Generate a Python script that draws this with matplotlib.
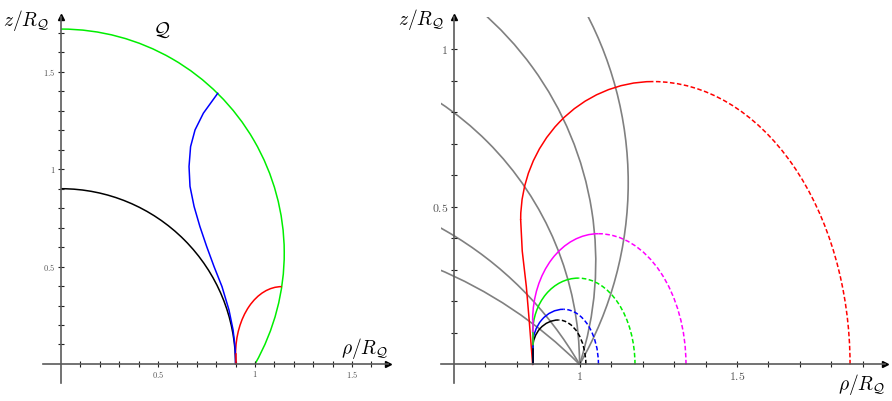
import numpy as np
import matplotlib
matplotlib.use("Agg")
import matplotlib.pyplot as plt
from matplotlib.patches import Arc

plt.rcParams['mathtext.fontset'] = 'cm'

# ---- left panel data ----
black_radius = 0.9
q_center_z = 0.569
q_radius = 1.151

blue_rho = [0.900, 0.899, 0.897, 0.887, 0.866, 0.830, 0.789, 0.751, 0.716, 0.686, 0.665, 0.660, 0.668, 0.691, 0.734, 0.808]
blue_z = [0.000, 0.045, 0.089, 0.175, 0.277, 0.397, 0.500, 0.603, 0.706, 0.809, 0.912, 1.014, 1.116, 1.202, 1.288, 1.390]

# red curve: rises from (0.9, 0) to a knee, then bends over to meet Q
red_start_rho = 0.900
red_knee_z = 0.05
red_end_rho = 1.138
red_end_z = 0.397

# ---- right panel data ----
gray_center_z = [-1.0, -0.577, 0.0, 0.325, 0.577]

start_rho = 0.851
names = ['red', 'magenta', 'green', 'blue', 'black']
peak_rho = [1.234, 1.060, 0.996, 0.949, 0.933]
peak_z = [0.898, 0.415, 0.274, 0.175, 0.141]
end_rho = [1.859, 1.338, 1.176, 1.060, 1.020]
knee_rho = [0.813, 0.851, 0.851, 0.851, 0.851]
knee_z = [0.459, 0.140, 0.100, 0.060, 0.050]

# lower stem of the red curve (leans left before bending over)
r_red_stem_rho = [0.851, 0.840, 0.831, 0.818, 0.813]
r_red_stem_z = [0.000, 0.141, 0.247, 0.360, 0.459]

fig = plt.figure(figsize=(8.92, 4.01), dpi=100)

axis_col = '#5a5a5a'
dash = (0, (3, 1.6))
colors = {'red': '#ff0000', 'magenta': '#ff00ff', 'green': '#00ee00',
          'blue': '#0000ff', 'black': '#000000'}


def setup_axis(ax, x0, xminor, yminor, xmajor, ymajor, lab_size):
    for s in ['top', 'right']:
        ax.spines[s].set_visible(False)
    ax.spines['left'].set_position(('data', x0))
    ax.spines['bottom'].set_position(('data', 0))
    for s in ['left', 'bottom']:
        ax.spines[s].set_color(axis_col)
        ax.spines[s].set_linewidth(1.2)
    ax.set_xticks(xmajor)
    ax.set_xticklabels(['$%g$' % v for v in xmajor])
    ax.set_yticks(ymajor)
    ax.set_yticklabels(['$%g$' % v for v in ymajor])
    ax.set_xticks(xminor, minor=True)
    ax.set_yticks(yminor, minor=True)
    ax.tick_params(which='both', direction='inout', length=4, width=0.8, color='#222222',
                   labelsize=lab_size, labelcolor='#555555', pad=2)
    ax.plot(1, 0, '>', color='black', ms=5, transform=ax.get_yaxis_transform(), clip_on=False)
    ax.plot(x0, 1, '^', color='black', ms=5, transform=ax.get_xaxis_transform(), clip_on=False)


def quarter(ax, cx, cz, a, b, t1, t2, col, ls='-'):
    ax.add_patch(Arc((cx, cz), 2 * a, 2 * b, theta1=t1, theta2=t2,
                     color=col, lw=1.1, linestyle=ls))


# ---- left panel ----
ax1 = fig.add_axes([43 / 892, 18 / 401, 345 / 892, 366 / 401])
ax1.set_xlim(-0.093, 1.686)
ax1.set_ylim(-0.098, 1.782)
setup_axis(ax1, 0, np.arange(0.1, 1.65, 0.1), np.arange(0.1, 1.75, 0.1),
           [0.5, 1, 1.5], [0.5, 1, 1.5], 6)

ax1.add_patch(Arc((0, 0), 2 * black_radius, 2 * black_radius, theta1=0, theta2=90,
                  color='black', lw=1.1))
q_start = np.degrees(np.arctan2(-q_center_z, 1.0))
ax1.add_patch(Arc((0, q_center_z), 2 * q_radius, 2 * q_radius, theta1=q_start, theta2=90,
                  color='#00ee00', lw=1.1))
ax1.plot(blue_rho, blue_z, color='#0000ff', lw=1.1)
ax1.plot([red_start_rho, red_start_rho], [0, red_knee_z], color='#ff0000', lw=1.1)
quarter(ax1, red_end_rho, red_knee_z, red_end_rho - red_start_rho, red_end_z - red_knee_z,
        90, 180, '#ff0000')

# ---- right panel ----
ax2 = fig.add_axes([441 / 892, 18 / 401, 444 / 892, 366 / 401])
ax2.set_xlim(0.560, 1.970)
ax2.set_ylim(-0.059, 1.103)
setup_axis(ax2, 0.6, np.arange(0.7, 1.95, 0.1), np.arange(0.1, 1.05, 0.1),
           [1, 1.5], [0.5, 1], 8.5)

for c in gray_center_z:
    r = np.hypot(1.0, c)
    t1 = np.degrees(np.arctan2(-c, 1.0))
    ax2.add_patch(Arc((0, c), 2 * r, 2 * r, theta1=t1, theta2=180 - t1,
                      color='#808080', lw=1.2))

for i, name in enumerate(names):
    col = colors[name]
    if name == 'red':
        ax2.plot(r_red_stem_rho, r_red_stem_z, color=col, lw=1.1)
    else:
        ax2.plot([start_rho, knee_rho[i]], [0, knee_z[i]], color=col, lw=1.1)
    # solid rise up to the top of the curve
    quarter(ax2, peak_rho[i], knee_z[i], peak_rho[i] - knee_rho[i], peak_z[i] - knee_z[i],
            90, 180, col)
    # dashed fall back down to the axis
    quarter(ax2, peak_rho[i], 0, end_rho[i] - peak_rho[i], peak_z[i], 0, 90, col, dash)

# ---- labels ----
fig.text(26 / 892, 1 - 21 / 401, r'$z/R_{\mathcal{Q}}$', ha='center', va='center', fontsize=14)
fig.text(365 / 892, 1 - 349 / 401, r'$\rho/R_{\mathcal{Q}}$', ha='center', va='center', fontsize=14)
fig.text(162 / 892, 1 - 30 / 401, r'$\mathcal{Q}$', ha='center', va='center', fontsize=14)
fig.text(421 / 892, 1 - 20 / 401, r'$z/R_{\mathcal{Q}}$', ha='center', va='center', fontsize=14)
fig.text(862 / 892, 1 - 385 / 401, r'$\rho/R_{\mathcal{Q}}$', ha='center', va='center', fontsize=14)

fig.savefig('out.png', dpi=100)
